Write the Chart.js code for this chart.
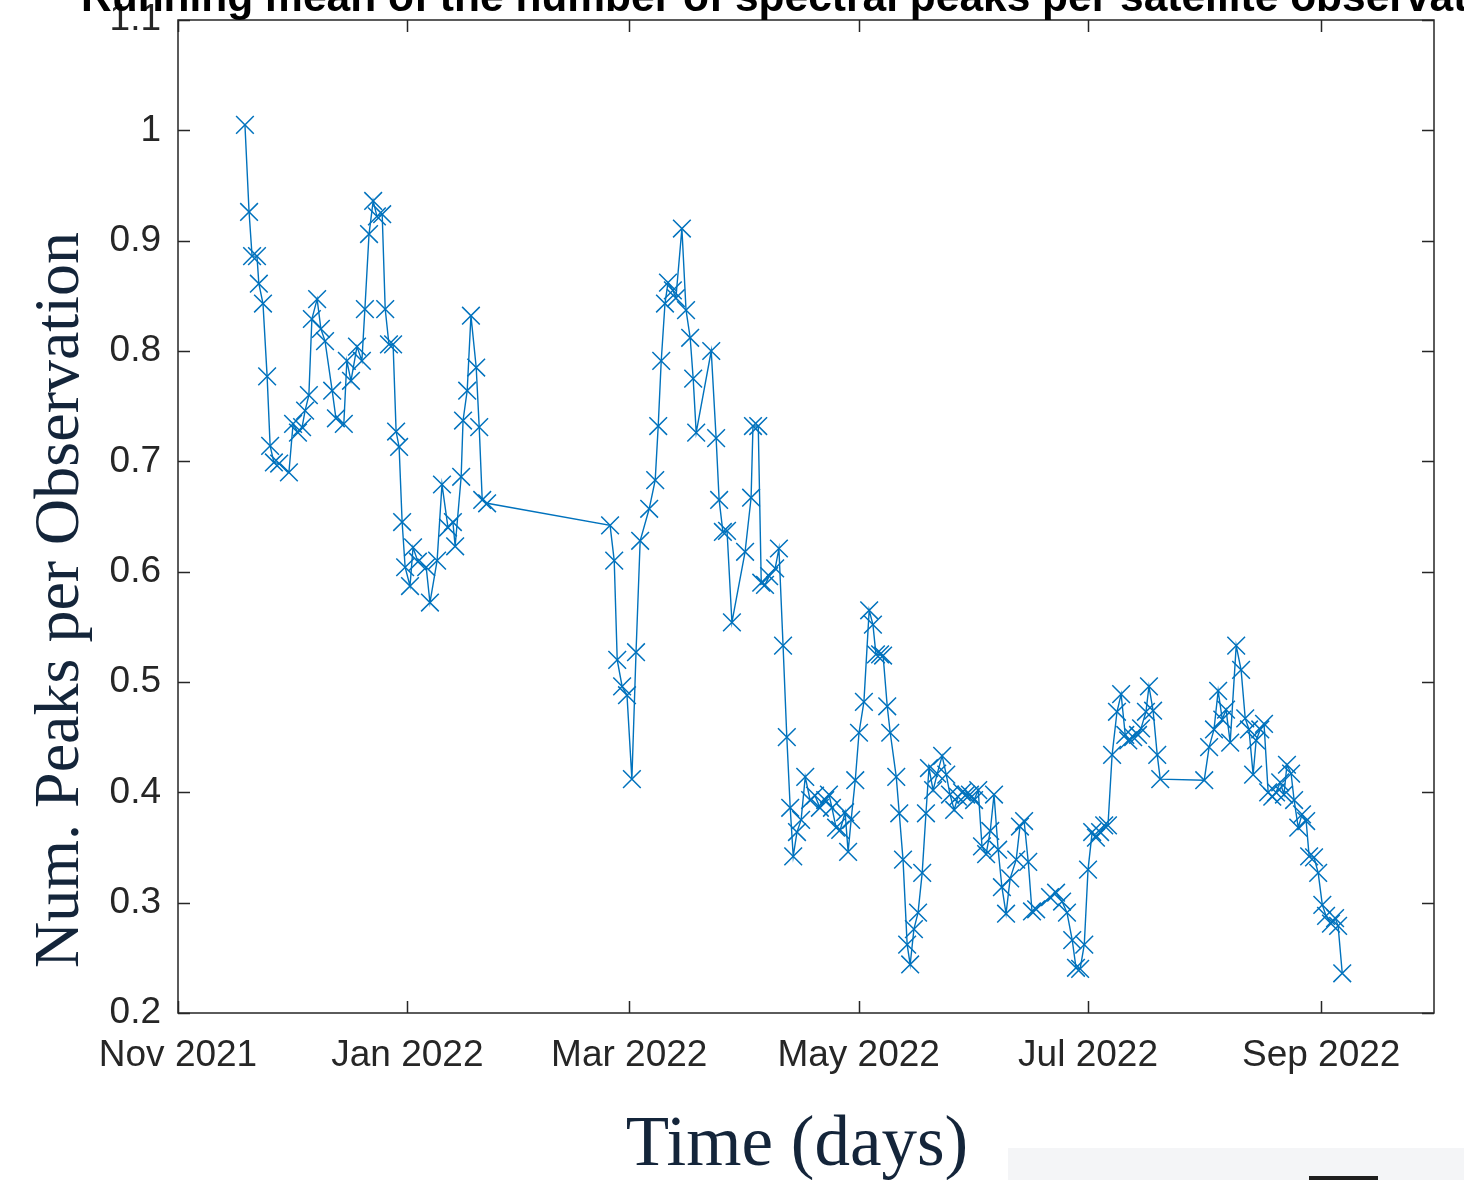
<!DOCTYPE html>
<html>
<head>
<meta charset="utf-8">
<title>Spectral peaks running mean</title>
<script src="https://cdn.jsdelivr.net/npm/chart.js@4.4.1/dist/chart.umd.min.js"></script>
<style>
  html, body { margin: 0; padding: 0; background: #fff; }
  #peakChart { display: block; }
</style>
</head>
<body>
<canvas id="peakChart" width="1464" height="1180"></canvas>
<script>
// 観測日（2021-11-01 からの経過日数）
const days = [
    17.8, 18.9, 19.7, 21.0, 21.5, 22.6, 23.7, 24.5, 25.5, 26.9,
    29.5, 30.6, 31.9, 33.0, 33.8, 34.8, 35.6, 37.0, 38.0, 39.1,
    41.0, 42.0, 44.1, 44.9, 46.0, 47.6, 48.9, 49.7, 50.8, 51.9,
    52.9, 54.3, 55.1, 56.1, 57.2, 58.0, 58.8, 59.6, 60.4, 61.7,
    62.5, 63.8, 66.0, 67.0, 68.9, 70.2, 71.8, 73.1, 73.7, 75.3,
    75.8, 76.9, 77.9, 79.3, 80.1, 80.9, 82.2,
    114.9, 116.0, 116.8, 118.1, 119.4, 120.7, 121.8, 122.9, 125.3, 126.9,
    127.7, 128.5, 129.5, 130.3, 131.6, 132.4, 134.0, 135.1, 136.2, 137.0,
    137.8, 141.8, 143.1, 143.9, 144.9, 146.0, 147.3, 150.8, 152.4, 152.9,
    154.3, 155.1, 156.1, 157.2, 158.8, 159.8, 160.9, 161.9, 162.8, 163.6,
    164.6, 165.7, 166.8, 168.1, 169.4, 170.7, 172.1, 173.1, 173.9, 175.0,
    176.1, 177.4, 178.2, 179.0, 180.1, 181.1, 182.4, 183.8, 184.8, 185.6,
    186.7, 187.5, 188.6, 189.4, 191.0, 191.8, 192.8, 193.9, 194.7, 195.7,
    196.8, 197.9, 198.9, 199.7, 200.8, 201.9, 203.2, 204.3, 205.3, 206.4,
    207.4, 208.5, 209.6, 210.6, 211.7, 212.8, 213.8, 214.9, 216.0, 217.0,
    218.1, 219.1, 220.2, 221.3, 222.9, 223.9, 225.0, 226.1, 227.1, 228.2,
    231.9, 233.5, 235.1, 236.4, 237.8, 238.8, 239.9, 241.0, 242.0, 243.1,
    244.1, 245.2, 246.3, 247.3, 248.4, 249.7, 250.8, 251.9, 252.7, 254.0,
    255.3, 256.1, 257.4, 258.2, 259.3, 260.4, 261.2, 272.9, 274.2, 275.5,
    276.6, 277.7, 278.7, 279.8, 281.4, 282.7, 283.8, 284.8, 285.9, 286.7,
    287.8, 288.8, 289.9, 291.0, 292.0, 293.1, 294.1, 294.9, 296.0, 296.8,
    297.9, 298.9, 300.0, 300.8, 302.1, 303.2, 304.3, 305.3, 306.6, 307.7,
    308.5, 309.6
];

// 観測1回あたりのピーク数（移動平均）
const peaks = [
    1.005, 0.926, 0.886, 0.886, 0.861, 0.843, 0.777, 0.714, 0.699, 0.698,
    0.690, 0.734, 0.726, 0.731, 0.746, 0.760, 0.829, 0.847, 0.820, 0.809,
    0.764, 0.739, 0.734, 0.791, 0.773, 0.804, 0.791, 0.838, 0.906, 0.936,
    0.922, 0.924, 0.838, 0.806, 0.806, 0.727, 0.713, 0.645, 0.604, 0.587,
    0.622, 0.609, 0.604, 0.572, 0.610, 0.679, 0.640, 0.645, 0.623, 0.686,
    0.737, 0.764, 0.832, 0.785, 0.731, 0.665, 0.662,
    0.642, 0.610, 0.520, 0.496, 0.488, 0.412, 0.527, 0.628, 0.657, 0.683,
    0.732, 0.791, 0.843, 0.862, 0.855, 0.848, 0.911, 0.837, 0.812, 0.775,
    0.726, 0.800, 0.721, 0.665, 0.636, 0.637, 0.554, 0.618, 0.667, 0.732,
    0.732, 0.590, 0.588, 0.596, 0.603, 0.621, 0.533, 0.450, 0.386, 0.342,
    0.364, 0.375, 0.414, 0.393, 0.397, 0.386, 0.393, 0.398, 0.386, 0.368,
    0.366, 0.382, 0.346, 0.375, 0.411, 0.454, 0.482, 0.565, 0.552, 0.525,
    0.525, 0.524, 0.478, 0.454, 0.414, 0.381, 0.339, 0.262, 0.244, 0.276,
    0.291, 0.327, 0.381, 0.422, 0.402, 0.417, 0.433, 0.416, 0.398, 0.384,
    0.396, 0.400, 0.398, 0.398, 0.393, 0.402, 0.351, 0.344, 0.365, 0.398,
    0.348, 0.314, 0.290, 0.322, 0.339, 0.369, 0.374, 0.337, 0.292, 0.294,
    0.305, 0.309, 0.301, 0.291, 0.266, 0.241, 0.240, 0.262, 0.330, 0.364,
    0.359, 0.364, 0.370, 0.370, 0.434, 0.473, 0.489, 0.452, 0.447, 0.450,
    0.452, 0.458, 0.473, 0.496, 0.474, 0.434, 0.412, 0.411, 0.441, 0.457,
    0.492, 0.466, 0.475, 0.445, 0.533, 0.511, 0.467, 0.457, 0.416, 0.447,
    0.457, 0.462, 0.400, 0.396, 0.400, 0.409, 0.398, 0.425, 0.417, 0.393,
    0.368, 0.380, 0.374, 0.342, 0.341, 0.327, 0.298, 0.288, 0.281, 0.286,
    0.279, 0.236
];

// 目盛り
const xTickDays = [0, 61, 120, 181, 242, 304];
const xTickLabels = ['Nov 2021', 'Jan 2022', 'Mar 2022', 'May 2022', 'Jul 2022', 'Sep 2022'];
const yTicks = [0.2, 0.3, 0.4, 0.5, 0.6, 0.7, 0.8, 0.9, 1.0, 1.1];

const titleText = 'Running mean of the number of spectral peaks per satellite observation';
const xTitle = 'Time (days)';
const yTitle = 'Num. Peaks per Observation';

const axisColor = '#262626';
const lineColor = '#0072BD';
const labelColor = '#14253a';

// 枠線・内向き目盛り・タイトル類
const framePlugin = {
    id: 'frame',
    beforeDraw(chart) {
        const ctx = chart.ctx;
        ctx.save();
        ctx.fillStyle = '#ffffff';
        ctx.fillRect(0, 0, chart.width, chart.height);
        // 右下のグレー帯
        ctx.fillStyle = '#f4f5f7';
        ctx.fillRect(1008, 1148, chart.width - 1008, chart.height - 1148);
        ctx.fillStyle = '#1e1e1e';
        ctx.fillRect(1309, 1176, 69, 4);
        ctx.restore();
    },
    afterDraw(chart) {
        const ctx = chart.ctx;
        const { left, right, top, bottom } = chart.chartArea;
        const xs = chart.scales.x;
        const ys = chart.scales.y;
        const tick = 12;

        ctx.save();
        ctx.strokeStyle = axisColor;
        ctx.lineWidth = 1.5;
        ctx.strokeRect(left, top, right - left, bottom - top);

        ctx.beginPath();
        xTickDays.forEach(d => {
            const px = Math.round(xs.getPixelForValue(d)) + 0.5;
            ctx.moveTo(px, bottom); ctx.lineTo(px, bottom - tick);
            ctx.moveTo(px, top); ctx.lineTo(px, top + tick);
        });
        yTicks.forEach(v => {
            const py = Math.round(ys.getPixelForValue(v)) + 0.5;
            ctx.moveTo(left, py); ctx.lineTo(left + tick, py);
            ctx.moveTo(right, py); ctx.lineTo(right - tick, py);
        });
        ctx.stroke();

        // タイトル（上端で切れている）
        ctx.fillStyle = '#000000';
        ctx.font = 'bold 42.5px "Liberation Sans", Arial, sans-serif';
        ctx.textAlign = 'center';
        ctx.textBaseline = 'alphabetic';
        ctx.fillText(titleText, (left + right) / 2, 11);

        // 軸タイトル
        ctx.fillStyle = labelColor;
        ctx.font = '71px "Liberation Serif", "Times New Roman", serif';
        ctx.fillText(xTitle, 797, 1165);

        ctx.font = '64px "Liberation Serif", "Times New Roman", serif';
        ctx.translate(78, 600);
        ctx.rotate(-Math.PI / 2);
        ctx.fillText(yTitle, 0, 0);
        ctx.restore();
    }
};

const tickFont = { family: '"Liberation Sans", Arial, sans-serif', size: 37 };

new Chart(document.getElementById('peakChart').getContext('2d'), {
    type: 'line',
    data: {
        datasets: [{
            label: 'peaks',
            data: days.map((d, i) => ({ x: d, y: peaks[i] })),
            borderColor: lineColor,
            borderWidth: 1.4,
            pointStyle: 'crossRot',
            pointRadius: 12.5,
            pointBorderWidth: 1.5,
            pointBorderColor: lineColor,
            pointBackgroundColor: lineColor,
            fill: false,
            tension: 0,
        }]
    },
    options: {
        responsive: false,
        animation: false,
        events: [],
        layout: { padding: { top: 20, right: 30, left: 0, bottom: 0 } },
        plugins: {
            legend: { display: false },
            title: { display: false },
            tooltip: { enabled: false }
        },
        scales: {
            x: {
                type: 'linear',
                min: 0,
                max: 334,
                grid: { display: false, drawTicks: false },
                border: { display: false },
                afterBuildTicks: s => { s.ticks = xTickDays.map(v => ({ value: v })); },
                afterFit: s => { s.height = 167; s.paddingLeft = 0; s.paddingRight = 0; },
                ticks: {
                    autoSkip: false,
                    maxRotation: 0,
                    padding: 21,
                    color: axisColor,
                    font: tickFont,
                    callback: (v, i) => xTickLabels[i]
                }
            },
            y: {
                min: 0.2,
                max: 1.1,
                grid: { display: false, drawTicks: false },
                border: { display: false },
                afterBuildTicks: s => { s.ticks = yTicks.map(v => ({ value: v })); },
                afterFit: s => { s.width = 178; s.paddingTop = 0; s.paddingBottom = 0; },
                ticks: {
                    padding: 17,
                    color: axisColor,
                    font: tickFont,
                    callback: v => String(Number(v.toFixed(1)))
                }
            }
        }
    },
    plugins: [framePlugin]
});
</script>
</body>
</html>
